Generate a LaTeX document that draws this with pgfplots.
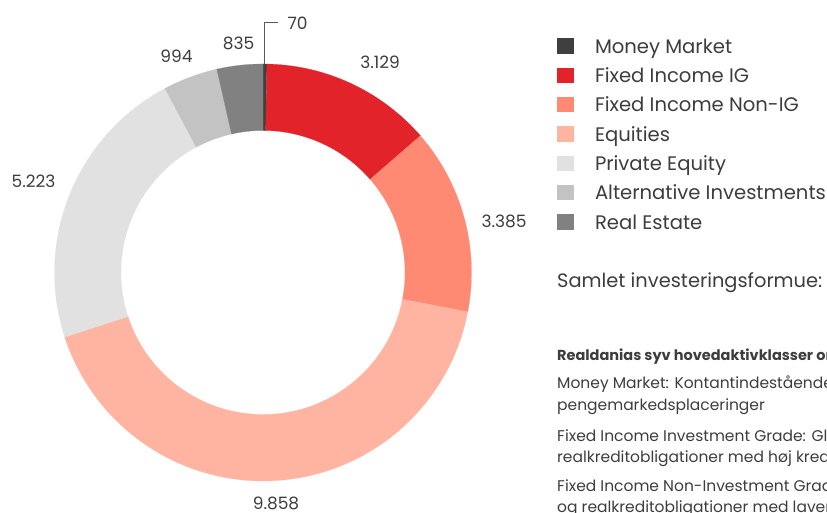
\documentclass[border=0pt]{standalone}
\usepackage{pgfplots}
\pgfplotsset{compat=1.18}
\usepackage{fontspec}
\setmainfont{Poppins}
\definecolor{txtc}{HTML}{3D3D3D}
\definecolor{cMM}{HTML}{3F3F3F}
\definecolor{cIG}{HTML}{E2232A}
\definecolor{cNIG}{HTML}{FF8A74}
\definecolor{cEQ}{HTML}{FFB4A2}
\definecolor{cPE}{HTML}{E1E1E1}
\definecolor{cAI}{HTML}{C3C3C3}
\definecolor{cRE}{HTML}{818181}
% data (mio. kr.)
\def\vMM{70}
\def\vIG{3129}
\def\vNIG{3385}
\def\vEQ{9858}
\def\vPE{5223}
\def\vAI{994}
\def\vRE{835}
\def\cx{263}
\def\cy{240.5}
\def\Ro{208.5}
\def\Ri{142}
\newcommand\slice[3]{%
  \addplot[fill=#1, draw=#1, line width=0.2pt, domain=#3:#2, samples=80, variable=\t]
    ({\cx+\Ro*cos(\t)},{\cy+\Ro*sin(\t)})
    -- (axis cs:{\cx+\Ri*cos(#2)},{\cy+\Ri*sin(#2)})
    arc[start angle=#2, end angle=#3, radius=\Ri pt] -- cycle;
}
\begin{document}
\pgfmathsetmacro{\tot}{\vMM/1000+\vIG/1000+\vNIG/1000+\vEQ/1000+\vPE/1000+\vAI/1000+\vRE/1000}%
\pgfmathsetmacro{\aA}{90}%
\pgfmathsetmacro{\aB}{\aA-\vMM/1000/\tot*360}%
\pgfmathsetmacro{\aC}{\aB-\vIG/1000/\tot*360}%
\pgfmathsetmacro{\aD}{\aC-\vNIG/1000/\tot*360}%
\pgfmathsetmacro{\aE}{\aD-\vEQ/1000/\tot*360}%
\pgfmathsetmacro{\aF}{\aE-\vPE/1000/\tot*360}%
\pgfmathsetmacro{\aG}{\aF-\vAI/1000/\tot*360}%
\pgfmathsetmacro{\aH}{-270}%
\begin{tikzpicture}
\begin{axis}[
  at={(0pt,0pt)}, anchor=south west,
  scale only axis, width=827pt, height=513pt,
  xmin=0, xmax=827, ymin=0, ymax=513,
  hide axis, clip=false,
  legend cell align=left,
  legend image code/.code={\fill[#1, draw=none] (0pt,-0.5pt) rectangle (16.5pt,15pt); \path[draw=none, fill=none] (0pt,0pt) -- (38pt,0pt);},
  legend style={at={(axis cs:557,474.7)}, anchor=north west, draw=none, fill=none,
    inner sep=0pt, outer sep=0pt, row sep=0pt,
    font=\fontsize{19.6}{24}\selectfont, text=txtc,
    nodes={inner sep=0pt, outer sep=0pt, text height=15pt, text depth=14.33pt, anchor=base west}},
]
\slice{cMM}{\aA}{\aB}
\slice{cIG}{\aB}{\aC}
\slice{cNIG}{\aC}{\aD}
\slice{cEQ}{\aD}{\aE}
\slice{cPE}{\aE}{\aF}
\slice{cAI}{\aF}{\aG}
\slice{cRE}{\aG}{\aH}
\legend{Money Market, Fixed Income IG, Fixed Income Non-IG, Equities, Private Equity, Alternative Investments, Real Estate}

\draw[color=txtc!85, line width=1pt] (axis cs:264,449) -- (axis cs:264,490) -- (axis cs:278,490);
\begin{scope}[every node/.style={inner sep=0pt, text=txtc, font=\fontsize{17}{20}\selectfont}]
\node at (axis cs:297.5,490) {70};
\node at (axis cs:238.5,470) {835};
\node at (axis cs:176.5,456.5) {994};
\node at (axis cs:380,450.5) {3.129};
\node at (axis cs:33.5,332) {5.223};
\node at (axis cs:504,291.5) {3.385};
\node at (axis cs:276,10) {9.858};
\end{scope}
\begin{scope}[every node/.style={inner sep=0pt, text=txtc, anchor=base west, font=\fontsize{15.5}{18}\selectfont}]
\node[font=\fontsize{19.4}{24}\selectfont] at (axis cs:557,225) {Samlet investeringsformue: 23.494 mio. kr.};
\node[font=\fontsize{14.5}{18}\selectfont\bfseries] at (axis cs:557,152.5) {Realdanias syv hovedaktivklasser omfatter:};
\node at (axis cs:557,124) {Money Market: Kontantindestående, korte};
\node at (axis cs:557,102.5) {pengemarkedsplaceringer};
\node at (axis cs:557,71.5) {Fixed Income Investment Grade: Globale};
\node at (axis cs:557,50.5) {realkreditobligationer med høj kreditvurdering};
\node at (axis cs:557,21.5) {Fixed Income Non-Investment Grade: Erhverv};
\node at (axis cs:557,0.5) {og realkreditobligationer med lavere};
\end{scope}
\end{axis}
\pgfresetboundingbox
\path[use as bounding box] (0pt,0pt) rectangle (827pt,513pt);
\end{tikzpicture}
\end{document}
